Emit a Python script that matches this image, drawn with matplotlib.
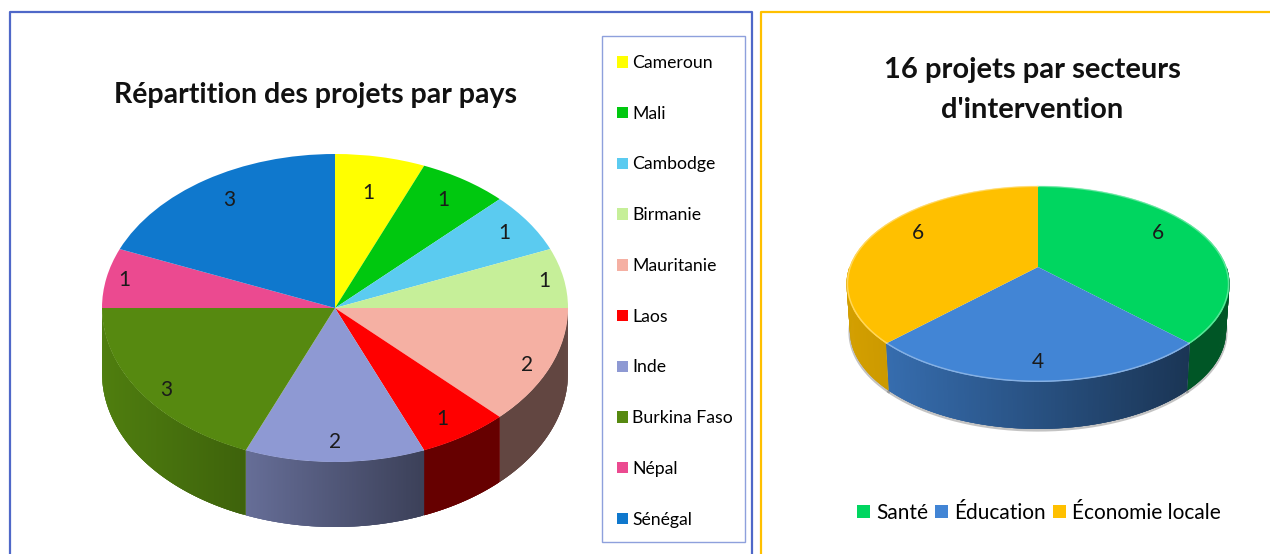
import numpy as np
import matplotlib
matplotlib.use("Agg")
import matplotlib.pyplot as plt
from matplotlib.collections import PolyCollection
from matplotlib.colors import to_rgb
from matplotlib.patches import Rectangle
from matplotlib.transforms import Transform

plt.rcParams['font.family'] = ['Lato', 'Open Sans', 'DejaVu Sans']

# data
pays = ['Cameroun', 'Mali', 'Cambodge', 'Birmanie', 'Mauritanie', 'Laos', 'Inde',
        'Burkina Faso', 'Népal', 'Sénégal']
projets_pays = [1, 1, 1, 1, 2, 1, 2, 3, 1, 3]
couleurs_pays = ['#FFFF00', '#00C80F', '#5BCBF0', '#C6EF99', '#F5B0A3', '#FF0000', '#8E99D3',
                 '#568910', '#EB4A90', '#0F78CD']
secteurs = ['Santé', 'Éducation', 'Économie locale']
projets_secteurs = [6, 4, 6]
couleurs_secteurs = ['#00D660', '#4285D5', '#FFC000']

# style of the side walls and label placement
ombre_pays = [(.4, .4)] * 4 + [(.4, .4), (.4, .4), (.72, .42), (.92, .72), (.5, .5), (.5, .5)]
ombre_secteurs = [(.4, .4), (.82, .40), (.83, .80)]
rayon_pays = [.74, .84, .875, .915, .89, .83, .86, .87, .92, .82]
decal_pays = [3, 0, 0, 0, -5, -5, -2, -8, 0, 3]
rayon_secteurs = [.72, .85, .72]
decal_secteurs = [9, 0, 9]

W, H = 1270, 554


class Perspective(Transform):
    input_dims = output_dims = 2
    is_affine = False

    def __init__(self, k):
        super().__init__()
        self.k = k

    def transform_non_affine(self, values):
        v = np.asarray(values, dtype=float)
        d = 1 + self.k * v[:, 1]
        return np.column_stack([v[:, 0] / d, v[:, 1] / d])


def pixel_axes(cx, cy, sx, sy):
    # axes whose unit circle has sx, sy pixels per unit around the centre cx, cy
    xr, top, bot = 1.12, 1.12, 1.9
    ax = fig.add_axes([(cx - xr * sx) / W, 1 - (cy + bot * sy) / H,
                       2 * xr * sx / W, (top + bot) * sy / H])
    ax._limits = (-xr, xr, -bot, top)
    return ax


def draw_pie(ax, values, colors, shades, k, depth, shrink, radii, shifts, bevel=False):
    tr = Perspective(k)
    wedges, _ = ax.pie(values, colors=colors, startangle=90, counterclock=False)
    for w in wedges:
        w.set_transform(tr + ax.transData)
        w.set_zorder(3)
    ax.set_aspect('auto')
    ax.set_xlim(*ax._limits[:2])
    ax.set_ylim(*ax._limits[2:])
    ax.axis('off')

    edges = np.cumsum([0] + list(values)) / sum(values) * 360
    for i, val in enumerate(values):
        base = np.array(to_rgb(colors[i]))
        # side wall, only the part of the slice facing the viewer
        t0, t1 = max(edges[i], 90), min(edges[i + 1], 270)
        if t1 > t0:
            t = np.radians(np.linspace(t0, t1, 150))
            pts = tr.transform_non_affine(np.column_stack([np.sin(t), np.cos(t)]))
            low = np.column_stack([pts[:, 0] * shrink, pts[:, 1] - depth])
            u = (pts[:, 0] - pts[:, 0].min()) / (np.ptp(pts[:, 0]) or 1)
            quads, cols = [], []
            for j in range(len(t) - 1):
                # strips overlap a little so that no seam shows between them
                e = min(j + 3, len(t) - 1)
                quads.append([pts[j], pts[e], low[e], low[j]])
                cols.append(base * (shades[i][0] + (shades[i][1] - shades[i][0]) * u[j]))
            ax.add_collection(PolyCollection(quads, facecolors=cols, linewidths=0, zorder=2))
            if bevel:
                ax.plot(low[:, 0], low[:, 1] - .012, color='#555555', alpha=.35, lw=2.2, zorder=1)
        if bevel:
            # light rim round the top face
            t = np.radians(np.linspace(edges[i], edges[i + 1], 100))
            rim = tr.transform_non_affine(np.column_stack([np.sin(t), np.cos(t)]) * .995)
            ax.plot(rim[:, 0], rim[:, 1], color=base * .4 + .6, alpha=.6, lw=1, zorder=4)
        # value label
        mid = np.radians((edges[i] + edges[i + 1]) / 2)
        p = tr.transform_non_affine(np.array([[radii[i] * np.sin(mid), radii[i] * np.cos(mid)]]))[0]
        ax.annotate(str(val), p, xytext=(0, shifts[i] * .72), textcoords='offset points',
                    ha='center', va='center', fontsize=15, color='#1a1a1a', zorder=5)
    return wedges


fig = plt.figure(figsize=(W / 100, H / 100), dpi=100)

# frames and titles
bg = fig.add_axes([0, 0, 1, 1])
bg.set_xlim(0, W)
bg.set_ylim(H, 0)
bg.axis('off')
bg.plot([10, 10, 752, 752], [H, 12, 12, H], color='#4F68C8', lw=1.6)
bg.plot([761, 761, W], [H, 12, 12], color='#FFC000', lw=1.6)
bg.add_patch(Rectangle((602, 36), 143, 506, fc='white', ec='#8EA0DC', lw=1))
bg.text(315, 95, 'Répartition des projets par pays', ha='center', va='center',
        fontsize=20.5, fontweight='bold', color='#111111')
bg.text(1032, 90, "16 projets par secteurs\nd'intervention", ha='center', va='center',
        fontsize=21, fontweight='bold', color='#111111', linespacing=1.65)

ax1 = pixel_axes(335, 308, 233, 154)
w1 = draw_pie(ax1, projets_pays, couleurs_pays, ombre_pays, 0, 65 / 154, 1, rayon_pays, decal_pays)

ax2 = pixel_axes(1038, 267, 188.6, 95)
w2 = draw_pie(ax2, projets_secteurs, couleurs_secteurs, ombre_secteurs, .1735, 47 / 95, .982,
              rayon_secteurs, decal_secteurs, bevel=True)

# legends
leg1 = fig.legend(w1, pays, loc='upper left', bbox_to_anchor=(617 / W, 1 - 55 / H),
                  bbox_transform=fig.transFigure, borderaxespad=0, borderpad=0, fontsize=12.7,
                  labelspacing=1.97, handlelength=.62, handleheight=.62, handletextpad=.25,
                  frameon=False)
leg2 = fig.legend(w2, secteurs, loc='center', bbox_to_anchor=(1039 / W, 1 - 513 / H),
                  bbox_transform=fig.transFigure, ncol=3, frameon=False, fontsize=15,
                  columnspacing=.35, handlelength=.62, handleheight=.62, handletextpad=.28)

fig.savefig('out.png', dpi=100)
